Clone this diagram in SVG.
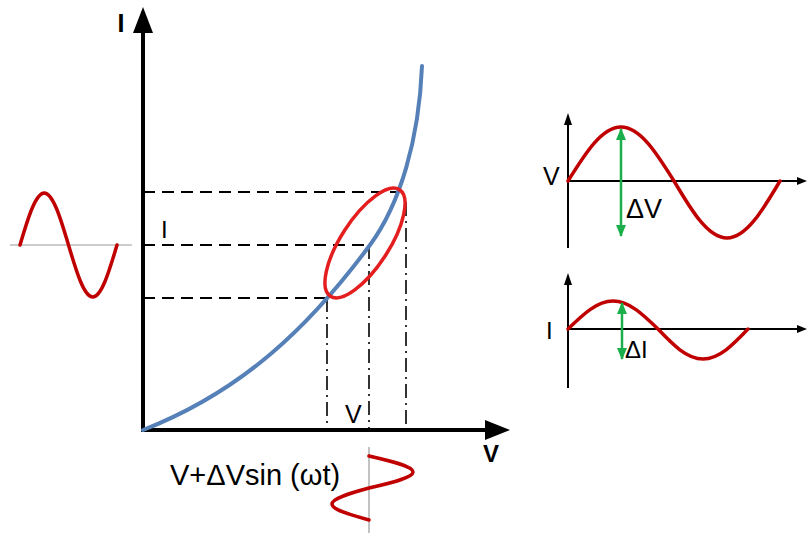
<svg xmlns="http://www.w3.org/2000/svg" width="807" height="533" viewBox="0 0 807 533">
<style>
.ax{stroke:#000;stroke-width:4;fill:none}
.ax2{stroke:#000;stroke-width:2;fill:none}
.dash{stroke:#000;stroke-width:2;fill:none;stroke-dasharray:12 7}
.dd{stroke:#000;stroke-width:1.6;fill:none;stroke-dasharray:14 5 2 5}
.gray{stroke:#9a9a9a;stroke-width:1.2;fill:none}
.wave{stroke:#c00000;stroke-width:3.5;fill:none;stroke-linecap:round}
.grn{stroke:#1aaf4b;stroke-width:2.5;fill:none}
.t{font-family:"Liberation Sans",Arial,sans-serif;fill:#000}
.b{font-weight:bold}
</style>
<defs>
<marker id="ga" viewBox="0 0 12 10" refX="11" refY="5" markerWidth="12" markerHeight="10" markerUnits="userSpaceOnUse" orient="auto-start-reverse"><path d="M0,0 L12,5 L0,10 Z" fill="#1aaf4b"/></marker>
</defs>
<g id="main-axes">
<line class="ax" x1="143" y1="432" x2="143" y2="30"/>
<polygon points="143,7 133,33 153,33" fill="#000"/>
<line class="ax" x1="141" y1="430" x2="487" y2="430"/>
<polygon points="510,430 485,420 485,440" fill="#000"/>
<text class="t b" x="117.5" y="32" font-size="25">I</text>
<text class="t b" x="483" y="462" font-size="24">V</text>
</g>
<g id="connectors">
<line class="dash" x1="143" y1="192" x2="397" y2="192"/>
<line class="dash" x1="143" y1="245" x2="369" y2="245"/>
<line class="dash" x1="143" y1="298" x2="330" y2="298"/>
<line class="dd" x1="327" y1="298" x2="327" y2="430"/>
<line class="dd" x1="369" y1="245" x2="369" y2="430"/>
<line class="dd" x1="406" y1="202" x2="406" y2="430"/>
</g>
<g id="iv-curve">
<path d="M143,430 C243,391 310,326 370,245 C400,204 419,140 422,66" stroke="#5580b8" stroke-width="4" fill="none" stroke-linecap="round"/>
</g>
<g id="ellipse">
<ellipse cx="365" cy="243" rx="63.5" ry="24" transform="rotate(-57 365 243)" fill="none" stroke="#e41e1e" stroke-width="3.5"/>
</g>
<g id="labels">
<text class="t" x="161" y="238" font-size="24">I</text>
<text class="t" x="345" y="423" font-size="25">V</text>
<text class="t" x="170" y="485" font-size="29">V+ΔVsin (ωt)</text>
</g>
<g id="left-wave">
<line class="gray" x1="10" y1="245" x2="132" y2="245"/>
<path class="wave" d="M20,245 C27.9,218.4 35.5,193 44.25,193 C53,193 60.6,218.4 68.5,245 C76.4,271.6 84,297 92.75,297 C101.5,297 109.1,271.6 117,245"/>
</g>
<g id="bottom-wave">
<line class="gray" x1="369" y1="447" x2="369" y2="533"/>
<path class="wave" d="M369,456 C391.5,461.2 413,466.2 413,472 C413,477.8 391.5,482.8 369,488 C350,493.2 332,498.2 332,504 C332,509.8 350,514.8 369,520"/>
</g>
<g id="v-panel">
<line class="ax2" x1="568" y1="248" x2="568" y2="120"/>
<polygon points="568,113 564,125 572,125" fill="#000"/>
<line class="ax2" x1="567" y1="181" x2="800" y2="181"/>
<polygon points="807,181 797,177 797,185" fill="#000"/>
<path class="wave" d="M568,181 C585.3,153.3 601.8,127 621,127 C640.2,127 656.7,153.3 674,181 C691.3,210.2 707.8,238 727,238 C746.2,238 762.7,210.2 780,181"/>
<line class="grn" x1="621" y1="129" x2="621" y2="236" marker-start="url(#ga)" marker-end="url(#ga)"/>
<text class="t" x="543" y="185" font-size="25">V</text>
<text class="t" x="626" y="218" font-size="27">ΔV</text>
</g>
<g id="i-panel">
<line class="ax2" x1="568" y1="388" x2="568" y2="280"/>
<polygon points="568,273 564,285 572,285" fill="#000"/>
<line class="ax2" x1="567" y1="329" x2="800" y2="329"/>
<polygon points="807,329 797,325 797,333" fill="#000"/>
<path class="wave" d="M568,329 C582.7,314.7 596.7,301 613,301 C629.3,301 643.3,314.7 658,329 C672.7,344.4 686.7,359 703,359 C719.3,359 733.3,344.4 748,329"/>
<line class="grn" x1="622" y1="303" x2="622" y2="359" marker-start="url(#ga)" marker-end="url(#ga)"/>
<text class="t" x="546" y="339" font-size="24">I</text>
<text class="t" x="625" y="358" font-size="24">ΔI</text>
</g>
</svg>
